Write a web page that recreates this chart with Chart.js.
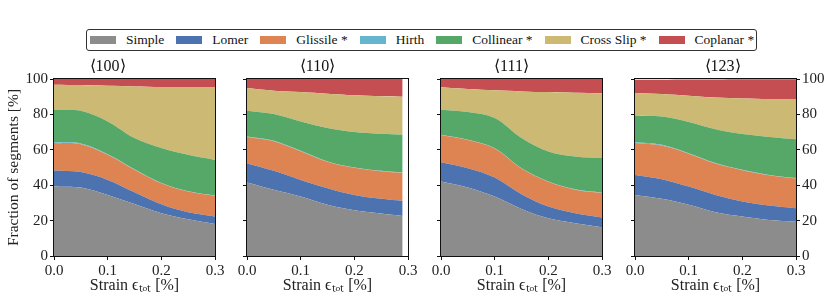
<!DOCTYPE html>
<html>
<head>
<meta charset="utf-8">
<script src="https://cdn.jsdelivr.net/npm/chart.js@4.4.0/dist/chart.umd.min.js"></script>
<style>
  html, body { margin: 0; padding: 0; background: #fff; }
  #wrap { position: relative; width: 830px; height: 303px; overflow: hidden; }
  #wrap canvas { position: absolute; left: 0; top: 0; }
  #legend {
    position: absolute; left: 86px; top: 29px; width: 671px; height: 22px;
    box-sizing: border-box; border: 1px solid #333; border-radius: 3px;
    display: flex; align-items: center; padding-left: 3px; gap: 12px;
    font-family: "Liberation Serif", serif; font-size: 13.5px; color: #111;
  }
  .item { display: flex; align-items: center; white-space: nowrap; }
  .sw { width: 26px; height: 8px; margin-right: 10px; }
</style>
</head>
<body>
<div id="wrap">
  <div id="legend"></div>
  <canvas id="c0" width="830" height="303"></canvas>
  <canvas id="c1" width="830" height="303"></canvas>
  <canvas id="c2" width="830" height="303"></canvas>
  <canvas id="c3" width="830" height="303"></canvas>
</div>
<script>
// DATA
var strain = [0, 0.05, 0.1, 0.15, 0.2, 0.25, 0.3];
var strain110 = [0, 0.05, 0.1, 0.15, 0.2, 0.25, 0.29];
var panelTitles = ["\u27E8100\u27E9", "\u27E8110\u27E9", "\u27E8111\u27E9", "\u27E8123\u27E9"];
var categories = ["Simple", "Lomer", "Glissile *", "Hirth", "Collinear *", "Cross Slip *", "Coplanar *"];
var colors = ["#8c8c8c", "#4c72b0", "#dd8452", "#64b5cd", "#55a868", "#ccb974", "#c44e52"];
var xTicks = [0, 0.1, 0.2, 0.3];

// fraction of segments [%], one row per panel (100, 110, 111, 123)
var simple = [
  [39.2, 38.7, 34.5, 29.4, 24.2, 20.8, 18.1],
  [41.5, 37.4, 33.6, 28.9, 25.8, 24.0, 22.6],
  [42.1, 38.7, 33.6, 26.6, 21.3, 18.5, 16.2],
  [34.5, 32.3, 28.9, 24.7, 22.3, 20.4, 19.4]
];
var lomer = [
  [9.1, 8.7, 8.5, 6.6, 5.0, 3.9, 4.2],
  [10.8, 10.7, 9.4, 9.4, 8.7, 8.3, 8.5],
  [10.9, 10.9, 10.7, 8.3, 6.6, 5.7, 5.5],
  [11.3, 11.1, 10.3, 9.8, 8.5, 8.1, 7.6]
];
var glissile = [
  [15.5, 15.8, 14.2, 12.7, 11.9, 11.7, 11.7],
  [15.0, 16.8, 16.2, 14.9, 15.3, 15.6, 15.9],
  [15.3, 15.9, 16.4, 14.5, 14.0, 13.3, 13.9],
  [18.0, 19.0, 18.6, 17.7, 17.7, 17.1, 16.8]
];
var hirth = [
  [0.4, 0.4, 0.3, 0.3, 0.2, 0.2, 0.2],
  [0.2, 0.2, 0.2, 0.2, 0.2, 0.2, 0.2],
  [0.2, 0.2, 0.2, 0.2, 0.2, 0.2, 0.2],
  [0.4, 0.4, 0.3, 0.3, 0.2, 0.2, 0.2]
];
var collinear = [
  [18.4, 18.4, 18.5, 17.6, 19.7, 20.6, 20.1],
  [14.6, 15.1, 16.6, 18.9, 20.0, 20.9, 21.3],
  [14.1, 15.6, 17.0, 17.0, 16.9, 18.5, 19.5],
  [15.2, 16.0, 17.6, 19.1, 20.2, 21.5, 22.0]
];
var crossSlip = [
  [14.2, 14.6, 20.2, 29.2, 34.5, 38.3, 41.2],
  [12.8, 13.2, 16.6, 19.4, 20.8, 21.2, 21.5],
  [12.7, 13.0, 15.7, 26.4, 33.6, 36.1, 36.6],
  [12.7, 12.7, 14.8, 17.9, 20.1, 21.4, 22.7]
];
var coplanar = [
  [3.2, 3.4, 3.8, 4.2, 4.5, 4.5, 4.5],
  [5.1, 6.6, 7.4, 8.3, 9.2, 9.8, 10.0],
  [4.7, 5.7, 6.4, 7.0, 7.4, 7.7, 8.1],
  [7.5, 8.1, 9.2, 10.2, 10.8, 11.1, 11.1]
];
var series = [simple, lomer, glissile, hirth, collinear, crossSlip, coplanar];

// LAYOUT
var plotLeft = [54, 247, 441, 635];
var plotWidth = 161;
var FONT = "Liberation Serif";

// HTML legend
var legendEl = document.getElementById('legend');
categories.forEach(function (name, k) {
  var item = document.createElement('div');
  item.className = 'item';
  var sw = document.createElement('span');
  sw.className = 'sw';
  sw.style.background = colors[k];
  var txt = document.createElement('span');
  txt.textContent = name;
  item.appendChild(sw);
  item.appendChild(txt);
  legendEl.appendChild(item);
});

// box around each plot area
var framePlugin = {
  id: 'frame',
  afterDraw: function (chart) {
    var a = chart.chartArea;
    var ctx = chart.ctx;
    ctx.save();
    ctx.strokeStyle = '#111';
    ctx.lineWidth = 1;
    ctx.strokeRect(Math.round(a.left) - 0.5, Math.round(a.top) - 0.5,
      Math.round(a.right - a.left) + 1, Math.round(a.bottom - a.top) + 1);
    ctx.restore();
  }
};

function makePanel(i) {
  var xs = i === 1 ? strain110 : strain;
  var datasets = categories.map(function (name, k) {
    return {
      label: name,
      data: xs.map(function (x, j) { return { x: x, y: series[k][i][j] }; }),
      backgroundColor: colors[k],
      borderWidth: 0,
      pointRadius: 0,
      fill: k === 0 ? 'origin' : '-1',
      tension: 0.35
    };
  });

  var leftW = i === 0 ? 54 : 20;
  var rightW = i === 3 ? 34 : 0;
  var tickFont = { family: FONT, size: 15 };

  var scales = {
    x: {
      type: 'linear', min: 0, max: 0.3,
      afterBuildTicks: function (s) { s.ticks = xTicks.map(function (v) { return { value: v }; }); },
      ticks: {
        font: tickFont, color: '#222', padding: 2,
        maxRotation: 0, autoSkip: false,
        callback: function (v) { return Number(v).toFixed(1); }
      },
      grid: { drawOnChartArea: false, drawTicks: true, tickLength: 4, color: '#111' },
      border: { display: false },
      title: { display: true, text: 'Strain \u03F5\u209C\u2092\u209C [%]', font: { family: FONT, size: 16 }, color: '#222', padding: { top: 0, bottom: 8 } },
      afterFit: function (s) { s.height = 47; }
    },
    y: {
      stacked: true, min: 0, max: 100, position: 'left',
      ticks: { stepSize: 20, display: i === 0, font: tickFont, color: '#222', padding: 2 },
      grid: { drawOnChartArea: false, drawTicks: true, tickLength: 4, color: '#111' },
      border: { display: false },
      title: { display: i === 0, text: 'Fraction of segments [%]', font: { family: FONT, size: 15.5 }, color: '#222', padding: { top: 5, bottom: 0 } },
      afterFit: function (s) { s.width = leftW; }
    }
  };
  if (i === 3) {
    scales.y2 = {
      min: 0, max: 100, position: 'right',
      ticks: { stepSize: 20, font: tickFont, color: '#222', padding: 2 },
      grid: { drawOnChartArea: false, drawTicks: true, tickLength: 4, color: '#111' },
      border: { display: false },
      afterFit: function (s) { s.width = rightW; }
    };
  }

  return new Chart(document.getElementById('c' + i), {
    type: 'line',
    data: { datasets: datasets },
    options: {
      responsive: false,
      animation: false,
      layout: {
        padding: {
          left: plotLeft[i] - leftW,
          right: 830 - (plotLeft[i] + plotWidth) - rightW,
          top: 0,
          bottom: 0
        }
      },
      plugins: {
        legend: { display: false },
        tooltip: { enabled: false },
        title: {
          display: true, text: panelTitles[i], color: '#111',
          font: { family: FONT, size: 16, weight: 'normal' },
          padding: { top: 56.8, bottom: 3 }
        }
      },
      scales: scales
    },
    plugins: [framePlugin]
  });
}

for (var i = 0; i < 4; i++) {
  makePanel(i);
}
</script>
</body>
</html>
